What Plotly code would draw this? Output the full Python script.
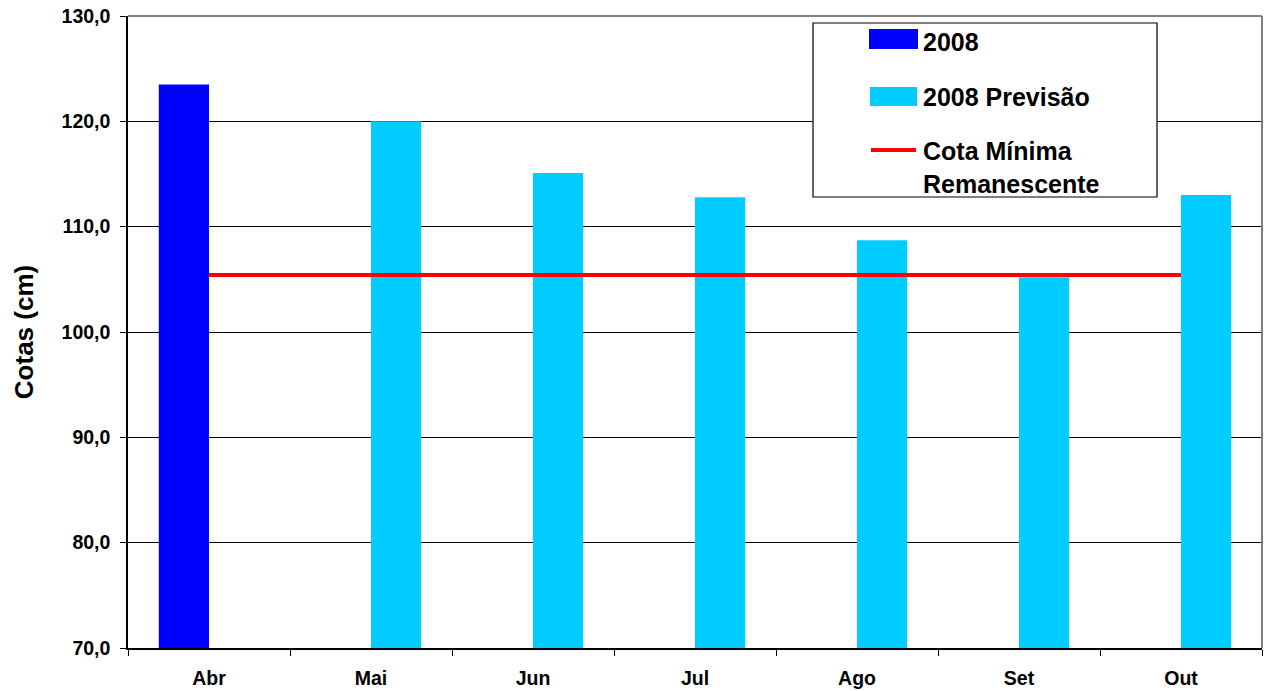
import plotly.graph_objects as go

months = ["Abr", "Mai", "Jun", "Jul", "Ago", "Set", "Out"]
obs_2008 = [123.5, None, None, None, None, None, None]
prev_2008 = [None, 120.0, 115.1, 112.8, 108.7, 105.2, 113.0]
cota_minima = [105.4] * 7
y_ticks = [70, 80, 90, 100, 110, 120, 130]
y_tick_text = ["70,0", "80,0", "90,0", "100,0", "110,0", "120,0", "130,0"]

W, H = 1266, 691
ML, MR, MT, MB = 128, 4, 16, 43
PW, PH = W - ML - MR, H - MT - MB


def px(x):
    return (x - ML) / PW


def py(y):
    return (H - MB - y) / PH


FONT = "Liberation Sans, Arial, sans-serif"

fig = go.Figure()
fig.add_trace(go.Bar(x=months, y=obs_2008, name="2008", marker=dict(color="#0000FF", line=dict(width=0))))
fig.add_trace(go.Bar(x=months, y=prev_2008, name="2008 Previsão", marker=dict(color="#00CCFF", line=dict(width=0))))
fig.add_trace(go.Scatter(x=months, y=cota_minima, mode="lines", name="Cota Mínima Remanescente",
                         line=dict(color="#FF0000", width=4)))

shapes = [
    dict(type="line", xref="paper", yref="paper", x0=0, x1=1, y0=1, y1=1, line=dict(color="#808080", width=2)),
    dict(type="line", xref="paper", yref="paper", x0=1, x1=1, y0=0, y1=1, line=dict(color="#808080", width=2)),
    dict(type="rect", xref="paper", yref="paper", x0=px(813), x1=px(1157), y0=py(197), y1=py(23),
         fillcolor="white", line=dict(color="black", width=1.2), layer="above"),
    dict(type="rect", xref="paper", yref="paper", x0=px(869), x1=px(918), y0=py(49), y1=py(29),
         fillcolor="#0000FF", line=dict(width=0), layer="above"),
    dict(type="rect", xref="paper", yref="paper", x0=px(870), x1=px(917), y0=py(106), y1=py(87),
         fillcolor="#00CCFF", line=dict(width=0), layer="above"),
    dict(type="line", xref="paper", yref="paper", x0=px(871), x1=px(916), y0=py(150), y1=py(150),
         line=dict(color="#FF0000", width=4), layer="above"),
]

ann = []
for txt, yc in [("2008", 42), ("2008 Previsão", 97), ("Cota Mínima<br>Remanescente", 167)]:
    ann.append(dict(xref="paper", yref="paper", x=px(921), y=py(yc), text="<b>%s</b>" % txt,
                    showarrow=False, xanchor="left", yanchor="middle", align="left",
                    font=dict(family=FONT, size=25, color="black")))

fig.update_layout(
    width=W, height=H,
    margin=dict(l=ML, r=MR, t=MT, b=MB, autoexpand=False),
    paper_bgcolor="white", plot_bgcolor="white",
    barmode="group", bargap=0.38, bargroupgap=0,
    showlegend=False,
    shapes=shapes, annotations=ann,
    font=dict(family=FONT, color="black"),
)
fig.update_xaxes(
    type="category", showline=True, linecolor="black", linewidth=1.5,
    ticks="outside", tickson="boundaries", ticklen=6, tickcolor="black",
    tickfont=dict(family=FONT, size=19.5, color="black"),
    tickvals=months, ticktext=["<b>%s</b>" % m for m in months],
    ticklabelstandoff=12, showgrid=False, zeroline=False, automargin=False,
)
fig.update_yaxes(
    range=[70, 130], tickvals=y_ticks, ticktext=["<b>%s</b>" % t for t in y_tick_text],
    showline=True, linecolor="black", linewidth=1.5, ticks="outside", ticklen=6, tickcolor="black",
    tickfont=dict(family=FONT, size=19.5, color="black"), ticklabelstandoff=6,
    ticklabeloverflow="allow", automargin=False,
    showgrid=True, gridcolor="black", gridwidth=1, zeroline=False,
    title=dict(text="<b>Cotas (cm)</b>", font=dict(family=FONT, size=26, color="black"), standoff=20),
)

fig.write_html(
    "out.html",
    config={"displayModeBar": False},
    post_script="document.body.style.margin='0';document.body.style.overflow='hidden';",
)
